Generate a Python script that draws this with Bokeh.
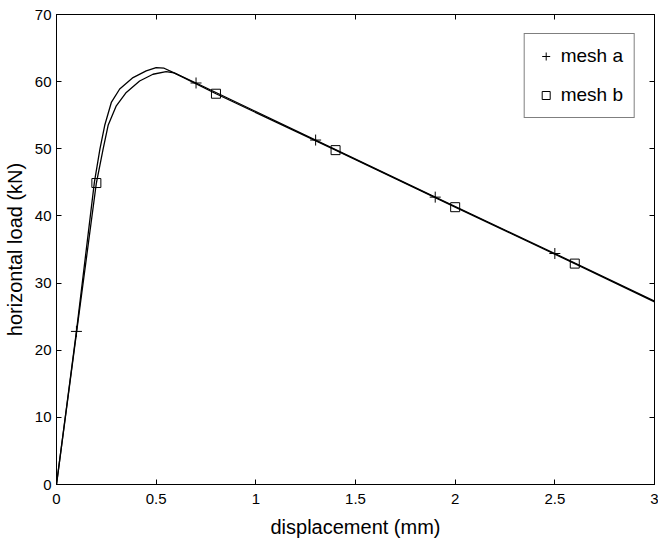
from bokeh.plotting import figure
from bokeh.models import LinearAxis, FixedTicker, Legend, LegendItem, Range1d, CustomJSTickFormatter
from bokeh.embed import file_html
from bokeh.resources import INLINE

# mesh a curve (displacement mm, load kN)
mesh_a_x = [0.0, 0.1, 0.19, 0.218, 0.242, 0.275, 0.317, 0.384, 0.45, 0.50, 0.54, 0.59, 0.7, 1.3, 1.9, 2.5, 3.0]
mesh_a_y = [0.0, 22.8, 45.0, 50.0, 53.5, 56.9, 58.9, 60.6, 61.6, 62.1, 62.0, 61.3, 59.8, 51.3, 42.8, 34.4, 27.3]
# mesh b curve
mesh_b_x = [0.0, 0.1, 0.2, 0.234, 0.259, 0.30, 0.35, 0.417, 0.484, 0.55, 0.59, 0.8, 1.4, 2.0, 2.6, 3.0]
mesh_b_y = [0.0, 22.5, 44.9, 50.0, 53.5, 56.4, 58.4, 60.1, 61.1, 61.5, 61.3, 58.2, 49.8, 41.3, 32.9, 27.2]
# marker positions
mark_a_x = [0.1, 0.7, 1.3, 1.9, 2.5]
mark_a_y = [22.8, 59.8, 51.3, 42.8, 34.4]
mark_b_x = [0.2, 0.8, 1.4, 2.0, 2.6]
mark_b_y = [44.9, 58.2, 49.8, 41.3, 32.9]

x_ticks = [0, 0.5, 1, 1.5, 2, 2.5, 3]
x_tick_labels = ["0", "0.5", "1", "1.5", "2", "2.5", "3"]
y_ticks = [0, 10, 20, 30, 40, 50, 60, 70]
y_tick_labels = ["0", "10", "20", "30", "40", "50", "60", "70"]

FONT = "Liberation Sans"

p = figure(width=658, height=540, output_backend="svg", toolbar_location=None,
           x_range=Range1d(0, 3), y_range=Range1d(0, 70),
           min_border_left=47, min_border_right=4, min_border_top=14, min_border_bottom=55,
           background_fill_color="white", border_fill_color="white")
p.grid.visible = False
p.outline_line_color = "black"

p.line(mesh_a_x, mesh_a_y, line_color="black", line_width=1.3)
p.line(mesh_b_x, mesh_b_y, line_color="black", line_width=1.3)
ra = p.scatter(mark_a_x, mark_a_y, marker="cross", size=11, line_color="black", line_width=1)
rb = p.scatter(mark_b_x, mark_b_y, marker="square", size=9, line_color="black", fill_color=None, line_width=1)

for ax, ticks, labels in ((p.xaxis[0], x_ticks, x_tick_labels), (p.yaxis[0], y_ticks, y_tick_labels)):
    ax.ticker = FixedTicker(ticks=ticks)
    ax.major_label_overrides = {t: l for t, l in zip(ticks, labels)}
    ax.major_tick_in = 5
    ax.major_tick_out = 0
    ax.minor_tick_line_color = None
    ax.major_label_text_font = FONT
    ax.major_label_text_font_size = "15px"
    ax.major_label_text_color = "black"
    ax.axis_label_text_font = FONT
    ax.axis_label_text_font_size = "20px"
    ax.axis_label_text_font_style = "normal"
    ax.axis_label_text_color = "black"
    ax.axis_line_color = "black"
    ax.major_tick_line_color = "black"

p.xaxis.axis_label = "displacement (mm)"
p.yaxis.axis_label = "horizontal load (kN)"
p.xaxis.major_label_standoff = 9
p.xaxis.axis_label_standoff = 9
p.yaxis.major_label_standoff = 5
p.yaxis.axis_label_standoff = 6

for side, ticks in (("above", x_ticks), ("right", y_ticks)):
    ax = LinearAxis(ticker=FixedTicker(ticks=ticks), major_tick_in=5, major_tick_out=0,
                    minor_tick_in=0, minor_tick_out=0,
                    minor_tick_line_color=None, formatter=CustomJSTickFormatter(code="return ''"),
                    major_label_standoff=0, axis_label_standoff=0, major_label_text_font_size="1px",
                    axis_line_color="black", major_tick_line_color="black")
    p.add_layout(ax, side)

legend = Legend(items=[LegendItem(label="mesh a", renderers=[ra]),
                       LegendItem(label="mesh b", renderers=[rb])],
                location="top_right", margin=19, padding=11, spacing=17,
                label_height=20, glyph_height=20, glyph_width=20, label_standoff=5,
                label_text_font=FONT, label_text_font_size="19px", label_text_color="black",
                border_line_color="black", border_line_width=1,
                background_fill_alpha=1.0)
p.add_layout(legend)

open("out.html", "w").write(file_html(p, INLINE))
